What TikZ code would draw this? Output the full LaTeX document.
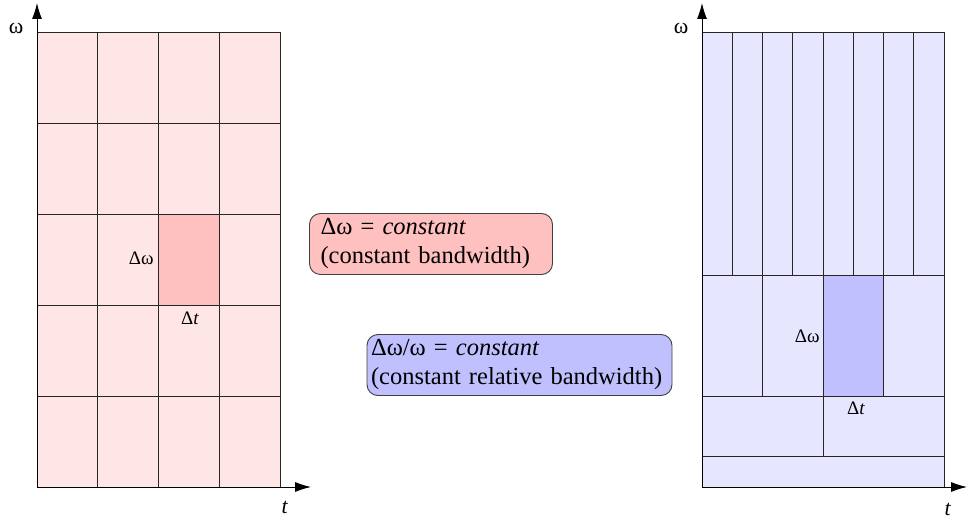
\documentclass[tikz,border=0pt]{standalone}
\usepackage{fontspec}
\setmainfont{Liberation Serif}
\usetikzlibrary{arrows.meta}

\definecolor{pinklight}{HTML}{FFE6E6}
\definecolor{pinkdark}{HTML}{FFC0C0}
\definecolor{bluelight}{HTML}{E6E6FF}
\definecolor{bluedark}{HTML}{C0C0FF}

\begin{document}
\begin{tikzpicture}
  [x=1pt,y=-1pt,line width=0.9pt,
   axis/.style={-{Latex[length=16pt,width=10pt]}},
   lbl/.style={font=\fontsize{19}{22}\selectfont,inner sep=1pt},
   axlbl/.style={font=\fontsize{22}{24}\selectfont,inner sep=1pt},
   note/.style={draw=black!75,rounded corners=11pt,align=left,
     font=\fontsize{24.5}{29}\selectfont,minimum height=61pt,inner ysep=2pt}]
  \useasboundingbox (0,0) rectangle (967,518);

  % constant bandwidth tiling
  \fill[pinklight] (37,32) rectangle (280,487);
  \fill[pinkdark] (158.5,214) rectangle (219.25,305);
  \foreach \x in {97.75,158.5,219.25}
    \draw[black!85] (\x,32) -- (\x,487);
  \foreach \y in {123,214,305,396}
    \draw[black!85] (37,\y) -- (280,\y);
  \draw[black!85] (37,32) rectangle (280,487);

  % constant relative bandwidth tiling
  \fill[bluelight] (702,32) rectangle (944,487);
  \fill[bluedark] (823,275) rectangle (883.5,396);
  \foreach \k in {1,...,7}
    \draw[black!85] (702+30.25*\k,32) -- (702+30.25*\k,275);
  \foreach \x in {762.5,823,883.5}
    \draw[black!85] (\x,275) -- (\x,396);
  \draw[black!85] (823,396) -- (823,456);
  \foreach \y in {275,396,456}
    \draw[black!85] (702,\y) -- (944,\y);
  \draw[black!85] (702,32) rectangle (944,487);

  % axes
  \coordinate (o1) at (37,487);
  \coordinate (yend1) at (37,3);
  \coordinate (xend1) at (311,487);
  \coordinate (o2) at (702,487);
  \coordinate (yend2) at (702,3);
  \coordinate (xend2) at (967,487);
  \draw[axis] (o1) -- (yend1);
  \draw[axis] (o1) -- (xend1);
  \draw[axis] (o2) -- (yend2);
  \draw[axis] (o2) -- (xend2);

  \node[axlbl] (w1) at (16,28) {ω};
  \node[axlbl] (t1) at (285,507) {\textit{t}};
  \node[axlbl] (w2) at (681,28) {ω};
  \node[axlbl] (t2) at (948,509) {\textit{t}};

  % cell labels
  \node[lbl,anchor=east] (dw1) at (155,258) {Δω};
  \node[lbl] (dt1) at (190,318) {Δ\textit{t}};
  \node[lbl,anchor=east] (dw2) at (821,336) {Δω};
  \node[lbl] (dt2) at (856,408) {Δ\textit{t}};

  % notes
  \node[note,fill=pinkdark,minimum width=243pt,text width=221pt,inner xsep=11pt]
    (cbw) at (431,244) {Δω = \textit{constant}\\(constant bandwidth)};
  \node[note,fill=bluedark,minimum width=305pt,text width=297pt,inner xsep=4pt]
    (crbw) at (519.5,365) {Δω/ω = \textit{constant}\\(constant relative bandwidth)};
\end{tikzpicture}
\end{document}
